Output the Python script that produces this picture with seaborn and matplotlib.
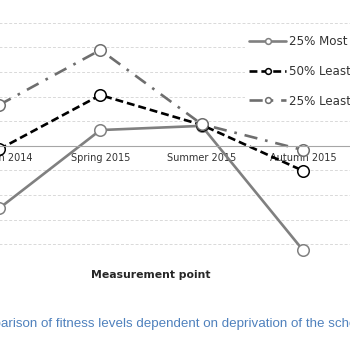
import numpy as np
import matplotlib
matplotlib.use("Agg")
import matplotlib.pyplot as plt
import seaborn as sns

points = ["Autumn 2014", "Spring 2015", "Summer 2015", "Autumn 2015"]
most_25 = [-2.54, 0.64, 0.81, -4.23]
least_50 = [-0.14, 2.06, 0.85, -1.01]
least_25 = [1.66, 3.89, 0.88, -0.17]
labels = ["25% Most deprived", "50% Least deprived", "25% Least deprived"]
colors = ["#808080", "#000000", "#6e6e6e"]
dashes = [None, (3, 1.5), (5, 3, 1, 3)]

sns.set_style("white")
plt.rcParams["font.family"] = "DejaVu Sans"

fig = plt.figure(figsize=(3.5, 3.5), dpi=100)
# plot area is wider than the picture (cropped on the left/right)
ax = fig.add_axes([-51.5 / 350, 81 / 350, 405 / 350, 271 / 350])

xpos = np.arange(len(points))
for vals, lab, col, dsh in zip([most_25, least_50, least_25], labels, colors, dashes):
    sns.lineplot(x=xpos, y=vals, ax=ax, color=col, lw=1.9, marker="o", ms=8.3,
                 mfc="white", mec=col, mew=1.1, label=lab, legend=False)
    if dsh:
        ax.lines[-1].set_dashes(dsh)

ax.set_xlim(-0.5, 3.5)
ax.set_ylim(-5, 6)
ax.set_yticks(range(-5, 7))
ax.yaxis.grid(True, ls=(0, (3, 2)), color="#d9d9d9", lw=0.7)
ax.set_axisbelow(True)
ax.tick_params(axis="y", left=False, labelleft=False)

for s in ["top", "right", "left"]:
    ax.spines[s].set_visible(False)
ax.spines["bottom"].set_position(("data", 0))
ax.spines["bottom"].set_color("#a6a6a6")
ax.spines["bottom"].set_linewidth(0.8)

ax.set_xticks(xpos)
ax.set_xticklabels(points, fontsize=7, color="#333333")
ax.set_xticks(np.arange(-0.5, 4, 1), minor=True)
ax.tick_params(axis="x", which="major", length=0, pad=5.5)
ax.tick_params(axis="x", which="minor", length=4, color="#a6a6a6", width=0.8)

ax.legend(loc="upper left", bbox_to_anchor=(245 / 350, 1 - 31 / 350),
          bbox_transform=fig.transFigure, borderaxespad=0, borderpad=0.35,
          handlelength=3.1, handletextpad=0.25, labelspacing=1.4,
          fontsize=8.6, frameon=True, facecolor="white", edgecolor="none",
          fancybox=False, framealpha=1, markerscale=0.5, labelcolor="#333333")

fig.text(151 / 350, 1 - 275 / 350, "Measurement point", ha="center", va="center",
         fontsize=7.8, fontweight="bold")

caption = "Figure 4: Comparison of fitness levels dependent on deprivation of the school"
cap_kw = dict(fontsize=9.6, color="#4f81bd", family="Liberation Sans", va="center")
fig.canvas.draw()
probe = fig.text(0, 0, "Figure 4: Comp", **cap_kw)
w = probe.get_window_extent(fig.canvas.get_renderer()).width
probe.remove()
fig.text((1 - w) / 350, 1 - 324 / 350, caption, ha="left", **cap_kw)

fig.savefig("out.png", dpi=100)
plt.close(fig)
